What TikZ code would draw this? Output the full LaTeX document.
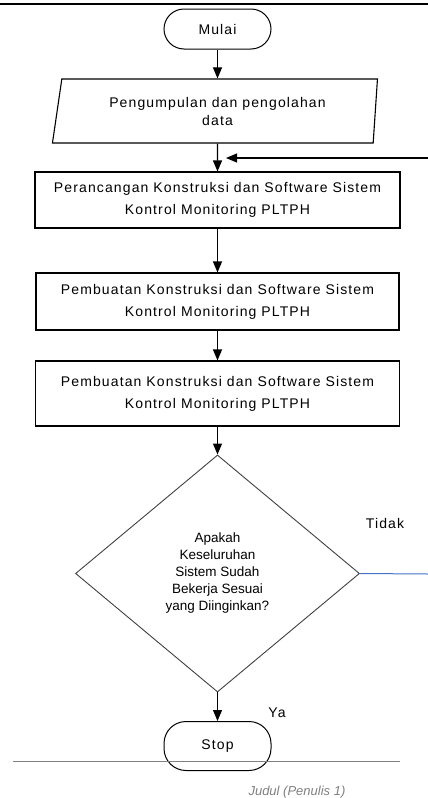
\documentclass[tikz,border=0pt]{standalone}
\usepackage{fontspec}
\setmainfont{Liberation Sans}
\newfontfamily\renggang[LetterSpace=8]{Liberation Sans}
\usetikzlibrary{arrows.meta,shapes.geometric}
\definecolor{garisbiru}{RGB}{68,114,196}
\definecolor{abutepi}{RGB}{64,64,64}

\begin{document}
\begin{tikzpicture}[x=1pt, y=-1pt,
  terminal/.style={shape=rectangle, rounded corners=20pt, draw=black, line width=1pt, font=\renggang\fontsize{14}{16}\selectfont},
  proses/.style={shape=rectangle, draw=black, line width=1.1pt, align=center, font=\renggang\fontsize{14}{22}\selectfont},
  panah/.style={-{Triangle[length=11pt,width=9pt]}, line width=1.1pt, draw=black},
  keterangan/.style={font=\renggang\fontsize{14}{16}\selectfont}]
\useasboundingbox (0,0) rectangle (428,798);
\draw[line width=2.5pt] (0,4) -- (428,4);
\node[terminal, minimum width=107pt, minimum height=40pt] (mulai) at (217.5,29) {Mulai};
\node[shape=trapezium, trapezium left angle=75, trapezium right angle=97, trapezium stretches body, draw=black, line width=1.1pt, minimum width=325pt, minimum height=64pt, align=center, font=\renggang\fontsize{14}{18}\selectfont] (data) at (217.5,111) {Pengumpulan dan pengolahan\\data};
\node[proses, minimum width=365pt, minimum height=56pt] (rancang) at (217.5,200) {Perancangan Konstruksi dan Software Sistem\\Kontrol Monitoring PLTPH};
\node[proses, minimum width=363pt, minimum height=57pt] (buat1) at (217.5,301.5) {Pembuatan Konstruksi dan Software Sistem\\Kontrol Monitoring PLTPH};
\node[proses, minimum width=364pt, minimum height=65pt] (buat2) at (217.5,393.5) {Pembuatan Konstruksi dan Software Sistem\\Kontrol Monitoring PLTPH};
\node[shape=diamond, draw=abutepi, line width=0.9pt, minimum width=284pt, minimum height=237pt, inner sep=0pt, align=center, font=\fontsize{13.5}{17}\selectfont] (cek) at (217.5,573.5) {Apakah\\Keseluruhan\\Sistem Sudah\\Bekerja Sesuai\\yang Diinginkan?};
\node[terminal, rounded corners=22pt, minimum width=107pt, minimum height=49pt] (stop) at (217.5,746) {Stop};
\node[keterangan] (tidak) at (385,523) {Tidak};
\node[keterangan] (ya) at (277,713) {Ya};
\coordinate (balik) at (428,158);
\coordinate (masuk) at (226,158);
\coordinate (keluar) at (428,574);
\draw[panah] (mulai) -- (data);
\draw[panah] (data) -- (rancang);
\draw[panah] (rancang) -- (buat1);
\draw[panah] (buat1) -- (buat2);
\draw[panah] (buat2) -- (cek);
\draw[panah] (cek) -- (stop);
\draw[panah] (balik) -- (masuk);
\draw[garisbiru, line width=1pt] (cek.east) -- (keluar);
\draw[gray, line width=0.9pt] (13,761) -- (400,761);
\node[anchor=base west, text=gray, font=\itshape\fontsize{13}{16}\selectfont] (judul) at (245,795) {Judul (Penulis 1)};
\end{tikzpicture}
\end{document}
